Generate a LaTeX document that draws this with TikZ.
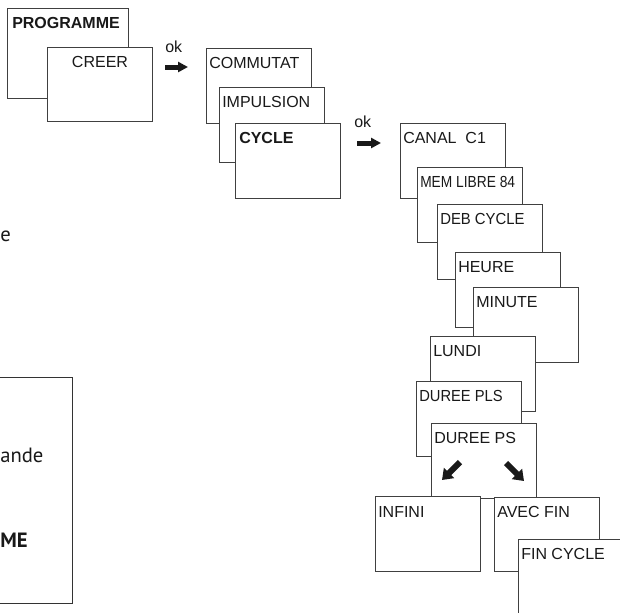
\documentclass[tikz,border=0pt]{standalone}
\usepackage{fontspec}
\setmainfont{Liberation Sans}
\newfontfamily\sidefont{PT Sans}
\usetikzlibrary{arrows.meta}
\begin{document}
\begin{tikzpicture}[x=0.75pt,y=-0.75pt,
  box/.style={draw=black!75, line width=0.75pt, fill=white, rectangle, inner sep=0pt,
    anchor=north west, minimum width=78.75pt, minimum height=56.25pt},
  lbl/.style={anchor=base west, inner sep=0pt, font=\fontsize{12}{14}\selectfont, text=black!90},
  lblb/.style={lbl, font=\fontsize{12}{14}\selectfont\bfseries},
  side/.style={anchor=base west, inner sep=0pt, font=\sidefont\fontsize{15.5}{17}\selectfont, text=black!90},
  blk/.style={line width=3.75pt, black!90, -{Triangle[width=7.5pt,length=7.5pt]}},
  diag/.style={line width=4.5pt, black!90, -{Triangle[width=10.5pt,length=7.5pt]}},
]
\useasboundingbox (0,0) rectangle (620,612);
\clip (0,0) rectangle (620,612);

% left column fragments
\node[side] (fe) at (0,241) {e};
\node[draw=black!80, line width=0.75pt, inner sep=0pt, anchor=north east,
      minimum width=75pt, minimum height=169.5pt] (lbox) at (73,377) {};
\node[side] (fande) at (0,462) {ande};
\node[side, font=\sidefont\fontsize{15.5}{17}\selectfont\bfseries] (fme) at (0,547) {ME};

% first group
\node[box, minimum width=90.75pt, minimum height=67.5pt] (prog) at (7,8) {};
\node[lblb] (tprog) at ([shift={(5,20)}]prog.north west) {PROGRAMME};
\node[box, minimum height=55.5pt] (creer) at (47,47) {};
\node[lbl, anchor=base] (tcreer) at ([shift={(0,20)}]creer.north) {CREER};

\node[lbl] (ok1) at (165,52) {ok};
\coordinate (a1s) at (165,67);
\coordinate (a1e) at (188,67);
\draw[blk] (a1s) -- (a1e);

% second group
\node[box] (comm) at (206,48) {};
\node[lbl] (tcomm) at ([shift={(3,20)}]comm.north west) {COMMUTAT};
\node[box] (imp) at (219,87) {};
\node[lbl] (timp) at ([shift={(3,20)}]imp.north west) {IMPULSION};
\node[box] (cyc) at (235,123) {};
\node[lblb] (tcyc) at ([shift={(4,20)}]cyc.north west) {CYCLE};

\node[lbl] (ok2) at (354,127) {ok};
\coordinate (a2s) at (357,143);
\coordinate (a2e) at (381,143);
\draw[blk] (a2s) -- (a2e);

% third group
\node[box] (canal) at (400,123) {};
\node[lbl] (tcanal) at ([shift={(3,20)}]canal.north west) {CANAL\ \ C1};
\node[box] (mem) at (417,167) {};
\node[lbl] (tmem) at ([shift={(3,20)}]mem.north west) {\scalebox{0.86}[1]{MEM LIBRE 84}};
\node[box] (deb) at (437,204) {};
\node[lbl] (tdeb) at ([shift={(3,20)}]deb.north west) {\scalebox{0.93}[1]{DEB CYCLE}};
\node[box] (heure) at (455,252) {};
\node[lbl] (theure) at ([shift={(3,20)}]heure.north west) {HEURE};
\node[box] (minute) at (473,287) {};
\node[lbl] (tminute) at ([shift={(3,20)}]minute.north west) {MINUTE};
\node[box] (lundi) at (430,336) {};
\node[lbl] (tlundi) at ([shift={(3,20)}]lundi.north west) {LUNDI};
\node[box] (pls) at (416,381) {};
\node[lbl] (tpls) at ([shift={(3,20)}]pls.north west) {\scalebox{0.92}[1]{DUREE PLS}};
\node[box] (ps) at (431,423) {};
\node[lbl] (tps) at ([shift={(3,20)}]ps.north west) {DUREE PS};
\coordinate (d1s) at (460,462);
\coordinate (d1e) at (442,480);
\draw[diag] (d1s) -- (d1e);
\coordinate (d2s) at (506,463);
\coordinate (d2e) at (524,481);
\draw[diag] (d2s) -- (d2e);

\node[box] (infini) at (375,496) {};
\node[lbl] (tinfini) at ([shift={(3,21)}]infini.north west) {INFINI};
\node[box, minimum height=55.5pt] (avec) at (494,497) {};
\node[lbl] (tavec) at ([shift={(3,20)}]avec.north west) {AVEC FIN};
\node[box] (fin) at (518,539) {};
\node[lbl] (tfin) at ([shift={(3,20)}]fin.north west) {FIN CYCLE};
\end{tikzpicture}
\end{document}
